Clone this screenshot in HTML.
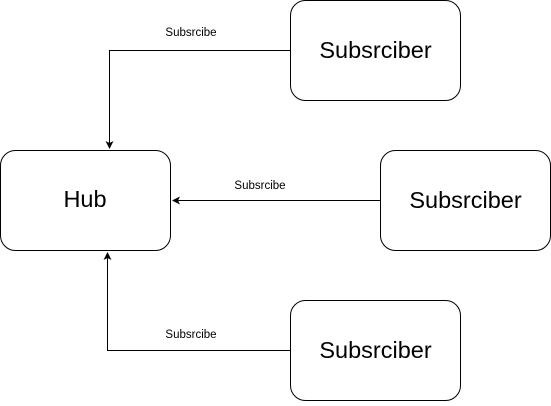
<!DOCTYPE html>
<html><head><style>body{margin:0;background:#fff}</style></head><body>
<svg width="551" height="401" xmlns="http://www.w3.org/2000/svg" font-family="Liberation Sans, Helvetica, sans-serif">
<defs><marker id="a" markerWidth="8" markerHeight="8" refX="7" refY="4" orient="auto" markerUnits="userSpaceOnUse"><path d="M0,0 L8,4 L0,8 L2,4 Z" fill="#000"/></marker></defs>
<g fill="#fff" stroke="#000" stroke-width="1">
<rect x="0.5" y="150.5" width="170" height="100" rx="15"/>
<rect x="290.5" y="0.5" width="170" height="100" rx="15"/>
<rect x="380.5" y="150.5" width="170" height="100" rx="15"/>
<rect x="290.5" y="300.5" width="170" height="100" rx="15"/>
</g>
<g fill="none" stroke="#000" stroke-width="1">
<path d="M290 50.5 H109.5 V148" marker-end="url(#a)"/>
<path d="M380 200.5 H173" marker-end="url(#a)"/>
<path d="M290 350.5 H107.5 V253" marker-end="url(#a)"/>
</g>
<g font-size="23.5" text-anchor="middle">
<text x="85" y="207">Hub</text>
<text x="375.5" y="58">Subsrciber</text>
<text x="465.5" y="208">Subsrciber</text>
<text x="375.5" y="358">Subsrciber</text>
</g>
<g font-size="11.5" text-anchor="middle">
<text x="191" y="36">Subsrcibe</text>
<text x="260" y="189">Subsrcibe</text>
<text x="191" y="338">Subsrcibe</text>
</g>
</svg>
</body></html>
